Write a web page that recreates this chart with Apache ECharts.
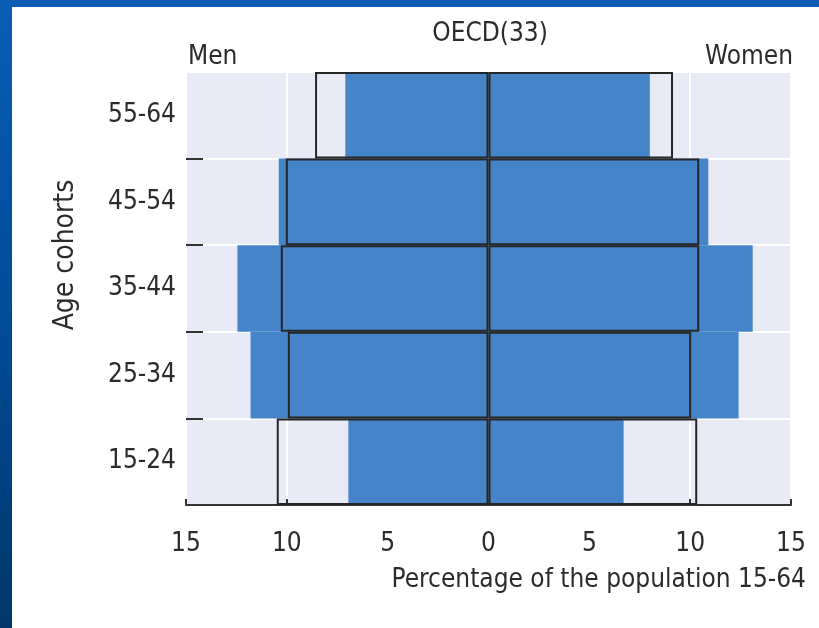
<!DOCTYPE html>
<html>
<head>
<meta charset="utf-8">
<script src="https://cdn.jsdelivr.net/npm/echarts@6/dist/echarts.min.js"></script>
<style>
  html, body { margin: 0; padding: 0; width: 819px; height: 628px; overflow: hidden; }
  body { background: linear-gradient(180deg, #0a5cb6 0%, #004c98 50%, #00366a 100%); position: relative; }
  #panel { position: absolute; left: 12px; top: 7px; right: 0; bottom: 0; background: #ffffff; }
  #chart { position: absolute; left: 0; top: 0; width: 819px; height: 628px; }
</style>
</head>
<body>
<div id="panel"></div>
<div id="chart"></div>
<script>
// Categories (top to bottom)
const ageCohorts = ['55-64', '45-54', '35-44', '25-34', '15-24'];
// Filled blue bars (latest year), percentage of population 15-64
const menFilled   = [7.1, 10.4, 12.45, 11.8, 6.95];
const womenFilled = [8.0, 10.9, 13.1, 12.4, 6.7];
// Outlined boxes (comparison year)
const menOutline   = [8.6, 10.05, 10.3, 9.95, 10.5];
const womenOutline = [9.15, 10.45, 10.45, 10.05, 10.35];

const FONT = "'DejaVu Sans Condensed', 'Liberation Sans Narrow', sans-serif";
const TXT = '#2b2b2b';
const BLUE = '#4584c8';

const chart = echarts.init(document.getElementById('chart'), null, { renderer: 'canvas' });

function label(text, x, y, align, size, rot) {
  return { type: 'text', x: x, y: y, rotation: rot || 0, z: 50,
    style: { text: text, fill: TXT, font: size + 'px ' + FONT, textAlign: align, textVerticalAlign: 'middle' } };
}

chart.setOption({
  backgroundColor: 'transparent',
  animation: false,
  textStyle: { fontFamily: FONT },
  graphic: [
    label('OECD(33)', 490, 34, 'center', 26),
    label('Men', 188, 57, 'left', 26),
    label('Women', 793, 57, 'right', 26),
    label('Percentage of the population 15-64', 806, 580, 'right', 26),
    label('Age cohorts', 66, 255, 'center', 28, Math.PI / 2)
  ],
  grid: {
    left: 186, right: 28, top: 72, bottom: 123,
    show: true, backgroundColor: '#e8eaf6', borderWidth: 0
  },
  xAxis: {
    type: 'value', min: -15, max: 15, interval: 5,
    axisLine: { show: true, onZero: false, lineStyle: { color: '#333', width: 2 } },
    axisTick: { show: true, inside: true, length: 6, lineStyle: { color: '#333', width: 2 } },
    axisLabel: { fontFamily: FONT, fontSize: 26, color: TXT, margin: 26,
      formatter: v => String(Math.abs(v)) },
    splitLine: { show: true, lineStyle: { color: '#ffffff', width: 2 } }
  },
  yAxis: {
    type: 'category', data: ageCohorts, boundaryGap: true, inverse: true,
    axisLine: { show: false, onZero: false },
    axisTick: { show: true, inside: true, length: 17, lineStyle: { color: '#333', width: 2 },
      interval: (i) => i > 0 && i < ageCohorts.length },
    axisLabel: { fontFamily: FONT, fontSize: 26, color: TXT, margin: 10 },
    splitLine: { show: true, lineStyle: { color: '#ffffff', width: 2 } }
  },
  series: [
    { name: 'Men', type: 'bar', data: menFilled.map(v => -v), barCategoryGap: 0, barGap: '-100%',
      itemStyle: { color: BLUE }, z: 2 },
    { name: 'Women', type: 'bar', data: womenFilled, barCategoryGap: 0, barGap: '-100%',
      itemStyle: { color: BLUE }, z: 2 },
    { name: 'Men outline', type: 'bar', data: menOutline.map(v => -v), barCategoryGap: 0, barGap: '-100%',
      itemStyle: { color: 'rgba(0,0,0,0)', borderColor: '#262626', borderWidth: 2 }, z: 3 },
    { name: 'Women outline', type: 'bar', data: womenOutline, barCategoryGap: 0, barGap: '-100%',
      itemStyle: { color: 'rgba(0,0,0,0)', borderColor: '#262626', borderWidth: 2 }, z: 3 }
  ]
});
</script>
</body>
</html>
